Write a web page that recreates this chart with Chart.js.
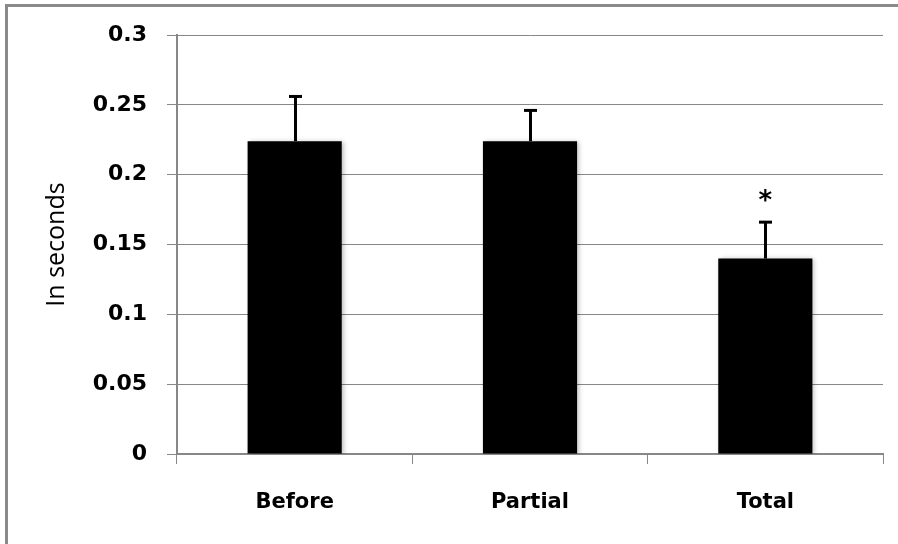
<!DOCTYPE html>
<html>
<head>
<meta charset="utf-8">
<script src="https://cdn.jsdelivr.net/npm/chart.js@4"></script>
<style>
  html, body { margin: 0; padding: 0; background: #fff; }
  #wrap { width: 898px; height: 544px; }
</style>
</head>
<body>
<div id="wrap"><canvas id="c" width="898" height="544"></canvas></div>
<script>
const categories = ["Before", "Partial", "Total"];
const meanValues = [0.224, 0.224, 0.140];
const errorValues = [0.032, 0.022, 0.026];
const significance = ["", "", "*"];
const yTickLabels = ["0", "0.05", "0.1", "0.15", "0.2", "0.25", "0.3"];

const GRAY = "#878787";

const framePlugin = {
  id: "frame",
  beforeDraw(chart) {
    const ctx = chart.ctx;
    ctx.save();
    ctx.fillStyle = "#fff";
    ctx.fillRect(0, 0, chart.width, chart.height);
    ctx.strokeStyle = "#8a8a8a";
    ctx.lineWidth = 3;
    ctx.beginPath();
    ctx.moveTo(6.5, chart.height + 5);
    ctx.lineTo(6.5, 5.5);
    ctx.lineTo(chart.width + 5, 5.5);
    ctx.stroke();
    ctx.restore();
  }
};

const shadowPlugin = {
  id: "barShadow",
  beforeDatasetsDraw(chart) {
    const ctx = chart.ctx;
    ctx.save();
    ctx.shadowColor = "rgba(0,0,0,0.28)";
    ctx.shadowBlur = 5;
    ctx.shadowOffsetX = 2;
    ctx.shadowOffsetY = 1;
  },
  afterDatasetsDraw(chart) {
    chart.ctx.restore();
  }
};

const errorPlugin = {
  id: "errorBars",
  afterDatasetsDraw(chart) {
    const ctx = chart.ctx;
    const meta = chart.getDatasetMeta(0);
    const y = chart.scales.y;
    ctx.save();
    ctx.strokeStyle = "#000";
    ctx.lineWidth = 3;
    meta.data.forEach((bar, i) => {
      const x = Math.round(bar.x) + 0.5;
      const yTop = y.getPixelForValue(meanValues[i]);
      const yErr = y.getPixelForValue(meanValues[i] + errorValues[i]);
      ctx.beginPath();
      ctx.moveTo(x, yTop);
      ctx.lineTo(x, yErr);
      ctx.stroke();
      ctx.beginPath();
      ctx.moveTo(x - 6.5, yErr);
      ctx.lineTo(x + 6.5, yErr);
      ctx.stroke();
      if (significance[i]) {
        ctx.font = "bold 26px 'DejaVu Sans'";
        ctx.fillStyle = "#000";
        ctx.textAlign = "center";
        ctx.textBaseline = "alphabetic";
        const m = ctx.measureText(significance[i]);
        const cy = yErr - 27;
        const base = cy + (m.actualBoundingBoxAscent - m.actualBoundingBoxDescent) / 2;
        ctx.fillText(significance[i], bar.x, base);
      }
    });
    ctx.restore();
  }
};

new Chart(document.getElementById("c"), {
  type: "bar",
  data: {
    labels: categories,
    datasets: [{
      data: meanValues,
      backgroundColor: "#000",
      borderWidth: 0,
      barPercentage: 0.4,
      categoryPercentage: 1.0
    }]
  },
  options: {
    responsive: false,
    animation: false,
    devicePixelRatio: 1,
    layout: { padding: { top: 35, right: 15, left: 0, bottom: 0 } },
    plugins: {
      legend: { display: false },
      tooltip: { enabled: false }
    },
    scales: {
      x: {
        grid: {
          display: true,
          drawOnChartArea: false,
          drawTicks: true,
          tickLength: 10,
          color: GRAY,
          offset: true
        },
        border: { display: true, color: GRAY, width: 2 },
        ticks: {
          color: "#000",
          font: { family: "'DejaVu Sans'", size: 21, weight: "bold" },
          padding: 26
        },
        afterFit(scale) { scale.height = 90; }
      },
      y: {
        min: 0,
        max: 0.3,
        grid: {
          color: GRAY,
          lineWidth: 1,
          tickLength: 10
        },
        border: { display: true, color: GRAY, width: 2 },
        ticks: {
          stepSize: 0.05,
          color: "#000",
          padding: 20,
          font: { family: "'DejaVu Sans'", size: 22, weight: "bold" },
          callback: (v, i) => yTickLabels[i]
        },
        title: {
          display: true,
          text: "In seconds",
          color: "#000",
          font: { family: "'Open Sans'", size: 25, weight: "normal" },
          padding: { top: 42, bottom: 0 }
        },
        afterFit(scale) { scale.width = 177; }
      }
    }
  },
  plugins: [framePlugin, shadowPlugin, errorPlugin]
});
</script>
</body>
</html>
